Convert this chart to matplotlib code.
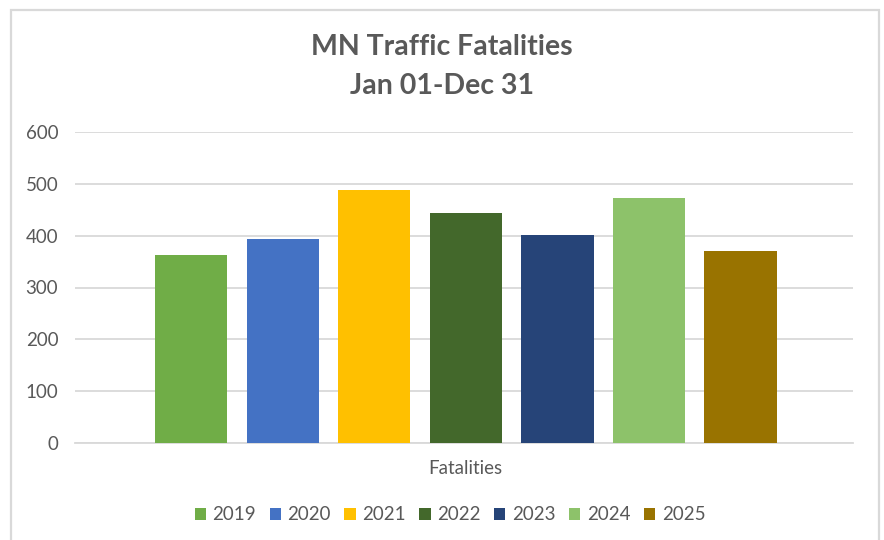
import matplotlib.pyplot as plt
from matplotlib.patches import Rectangle

years = ["2019", "2020", "2021", "2022", "2023", "2024", "2025"]
fatalities = [363, 394, 488, 444, 401, 473, 370]
colors = ["#70AD47", "#4472C4", "#FFC000", "#43682B", "#264478", "#8DC26A", "#997300"]
yticks = [0, 100, 200, 300, 400, 500, 600]

plt.rcParams['font.family'] = ['Lato', 'DejaVu Sans']
txt = "#595959"
grid = "#D9D9D9"

fig = plt.figure(figsize=(8.84, 5.4), dpi=100)
# outer chart border
fig.patches.append(Rectangle((11 / 884, -0.05), 868 / 884, 1.05 - 10 / 540,
                             transform=fig.transFigure, fill=False,
                             edgecolor=grid, linewidth=1.6))

ax = fig.add_axes([75 / 884, 1 - 443 / 540, 778 / 884, 311 / 540])
for i, (yr, v) in enumerate(zip(years, fatalities)):
    ax.bar(i, v, width=0.79, color=colors[i], label=yr, zorder=3)

ax.set_xlim(-1.27, 7.23)
ax.set_ylim(0, 600)
ax.set_yticks(yticks)
ax.set_yticklabels([str(t) for t in yticks], color=txt, fontsize=13.5)
ax.set_xticks([])
ax.grid(axis='y', color=grid, linewidth=1.3, zorder=0)
for s in ["top", "right", "left"]:
    ax.spines[s].set_visible(False)
ax.spines["bottom"].set_color(grid)
ax.spines["bottom"].set_linewidth(1.3)
ax.tick_params(axis='y', length=0, pad=12)

fig.text(0.5, 1 - 47 / 540, "MN Traffic Fatalities", ha='center', va='center',
         fontsize=20.5, fontweight='bold', color=txt)
fig.text(0.5, 1 - 86 / 540, "Jan 01-Dec 31", ha='center', va='center',
         fontsize=20.5, fontweight='bold', color=txt)
fig.text(465 / 884, 1 - 468 / 540, "Fatalities", ha='center', va='center',
         fontsize=13.5, color=txt)

leg = fig.legend(loc='center', bbox_to_anchor=(450 / 884, 1 - 515 / 540), ncol=7,
                 frameon=False, fontsize=13.5, handlelength=0.6, handleheight=0.6,
                 handletextpad=0.35, columnspacing=0.72)
for t in leg.get_texts():
    t.set_color(txt)

fig.savefig("out.png", dpi=100)
